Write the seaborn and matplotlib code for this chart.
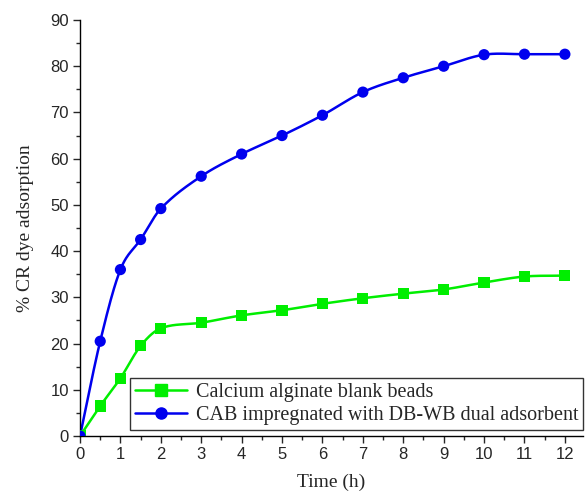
import numpy as np
import pandas as pd
import matplotlib
matplotlib.use("Agg")
import matplotlib.pyplot as plt
from matplotlib.ticker import MultipleLocator
from matplotlib.lines import Line2D
import seaborn as sns

time_h = [0, 0.5, 1, 1.5, 2, 3, 4, 5, 6, 7, 8, 9, 10, 11, 12]
blank_beads = [0, 6.5, 12.5, 19.5, 23.3, 24.5, 26.1, 27.2, 28.6, 29.8, 30.8, 31.7, 33.2, 34.5, 34.7]
cab_dual = [0, 20.5, 36.0, 42.5, 49.2, 56.2, 61.0, 65.0, 69.4, 74.4, 77.5, 80.0, 82.5, 82.6, 82.6]
labels = ["Calcium alginate blank beads", "CAB impregnated with DB-WB dual adsorbent"]
colors = ["#00ee00", "#0000ee"]
markers = ["s", "o"]


def hermite_smooth(x, y, xs):
    """Cubic Hermite curve through the points, slopes from central differences."""
    x = np.asarray(x, float); y = np.asarray(y, float)
    n = len(x); h = np.diff(x)
    m = np.zeros(n)
    m[1:-1] = (y[2:] - y[:-2]) / (x[2:] - x[:-2])
    m[0] = (y[1] - y[0]) / h[0]
    m[-1] = (y[-1] - y[-2]) / h[-1]
    out = np.empty_like(xs)
    for j, xv in enumerate(xs):
        k = min(max(np.searchsorted(x, xv, side="right") - 1, 0), n - 2)
        t = (xv - x[k]) / h[k]
        h00 = 2 * t**3 - 3 * t**2 + 1; h10 = t**3 - 2 * t**2 + t
        h01 = -2 * t**3 + 3 * t**2; h11 = t**3 - t**2
        out[j] = h00 * y[k] + h10 * h[k] * m[k] + h01 * y[k + 1] + h11 * h[k] * m[k + 1]
    return out


df = pd.DataFrame({
    "time": time_h * 2,
    "value": blank_beads + cab_dual,
    "series": [labels[0]] * len(time_h) + [labels[1]] * len(time_h),
})

sns.set_style("ticks")
fig = plt.figure(figsize=(5.87, 5.0), dpi=100)
ax = fig.add_axes([0.1363, 0.128, 0.857, 0.832])

xs = np.linspace(0, 12, 600)
for col, vals in zip(colors, [blank_beads, cab_dual]):
    ax.plot(xs, hermite_smooth(time_h, vals, xs), color=col, lw=1.8, zorder=2)

sns.scatterplot(data=df, x="time", y="value", hue="series", style="series",
                palette=dict(zip(labels, colors)), markers=dict(zip(labels, markers)),
                s=65, edgecolor="none", ax=ax, legend=False, zorder=3)

handles = [Line2D([], [], color=c, marker=m, lw=1.8, markersize=8) for c, m in zip(colors, markers)]
leg = ax.legend(handles, labels, loc="lower right", bbox_to_anchor=(1.0, 0.0144),
                prop={"family": "Liberation Serif", "size": 14.5}, frameon=True,
                fancybox=False, edgecolor="black", handlelength=2.6, handletextpad=0.4,
                borderpad=0.25, labelspacing=0.2, borderaxespad=0.0)
leg.get_frame().set_linewidth(1.0)

ax.set_xlim(0, 12.45)
ax.set_ylim(0, 90)
ax.xaxis.set_major_locator(MultipleLocator(1))
ax.xaxis.set_minor_locator(MultipleLocator(0.5))
ax.yaxis.set_major_locator(MultipleLocator(10))
ax.yaxis.set_minor_locator(MultipleLocator(5))
ax.tick_params(which="major", direction="out", length=5, width=1, labelsize=12, pad=3)
ax.tick_params(which="minor", direction="out", length=3, width=1)
for lbl in ax.get_xticklabels() + ax.get_yticklabels():
    lbl.set_family("Liberation Sans")
for s in ["top", "right"]:
    ax.spines[s].set_visible(False)
for s in ["left", "bottom"]:
    ax.spines[s].set_linewidth(1.0)
    ax.spines[s].set_color("black")

ax.set_xlabel("Time (h)", family="Liberation Serif", fontsize=14, labelpad=8)
ax.set_ylabel("% CR dye adsorption", family="Liberation Serif", fontsize=14, labelpad=12)

fig.savefig("out.png", dpi=100)
